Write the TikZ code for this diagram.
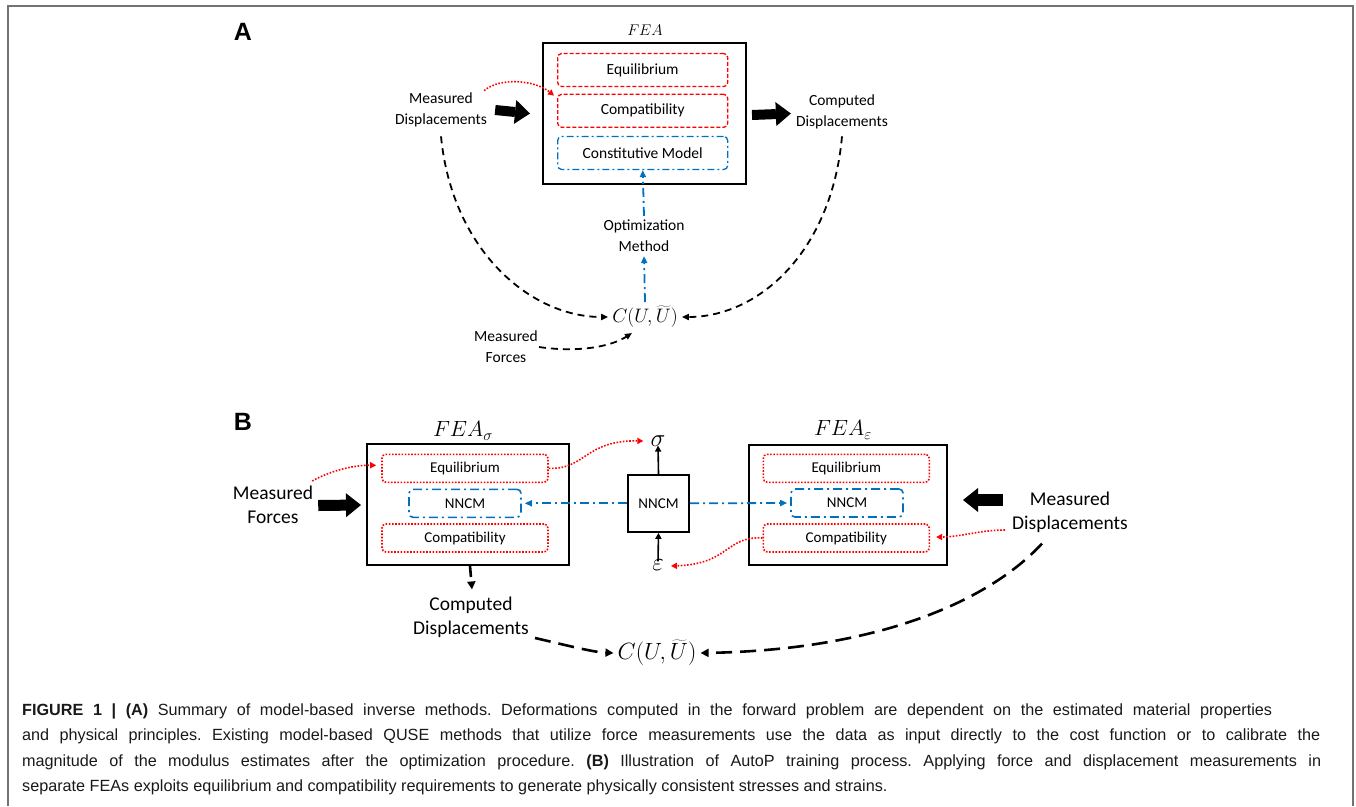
\RequirePackage{fix-cm}
\documentclass[tikz,border=0pt]{standalone}
\usepackage{fontspec}
\setmainfont{Carlito}
\newfontfamily\capfont{Liberation Sans}
\usetikzlibrary{arrows.meta}
\definecolor{cred}{RGB}{255,0,0}
\definecolor{cblue}{RGB}{0,112,192}
\frenchspacing
\begin{document}
\begin{tikzpicture}[x=1pt,y=-1pt,
  lblA/.style={font=\fontsize{15.5}{21}\selectfont, align=center, inner sep=1pt},
  lblB/.style={font=\fontsize{19.5}{24}\selectfont, align=center, inner sep=1pt},
  mathA/.style={font=\fontsize{19.5}{22}\selectfont, inner sep=4pt},
  mathB/.style={font=\fontsize{23.5}{26}\selectfont, inner sep=4pt},
  outerbox/.style={draw, line width=2pt, inner sep=0pt},
  innerA/.style={font=\fontsize{15.5}{18}\selectfont, inner sep=0pt, rounded corners=4pt, line width=1.3pt, minimum width=170pt, minimum height=33pt},
  redAbox/.style={innerA, draw=cred, dash pattern=on 4pt off 2pt},
  blueAbox/.style={innerA, draw=cblue, dash pattern=on 7pt off 3pt on 2pt off 3pt},
  innerB/.style={font=\fontsize{15}{18}\selectfont, inner sep=0pt, rounded corners=4pt, line width=1.6pt, minimum height=28pt},
  redBbox/.style={innerB, draw=cred, dash pattern=on 1.6pt off 1.6pt, minimum width=166pt},
  blueBbox/.style={innerB, draw=cblue, dash pattern=on 9pt off 4pt on 2pt off 4pt, minimum width=112pt},
  reddot/.style={draw=cred, line width=1.6pt, dash pattern=on 1.6pt off 1.6pt, -{Triangle[length=6pt,width=6pt]}},
  dashA/.style={line width=1.8pt, dash pattern=on 7pt off 5pt, -{Triangle[length=7pt,width=6pt]}},
  dashB/.style={line width=2.6pt, dash pattern=on 16pt off 8pt, -{Triangle[length=8pt,width=8pt]}},
  bluedd/.style={draw=cblue, line width=1.8pt, dash pattern=on 9pt off 4pt on 2pt off 4pt, -{Triangle[length=7pt,width=6pt]}},
  fatarrow/.style={line width=#1, -{Triangle[length=15pt,width=24pt,line width=0pt]}},
  solidarr/.style={line width=1.6pt, -{Triangle[length=6pt,width=6pt]}},
  greek/.style={font=\fontsize{25}{26}\selectfont, inner sep=1pt},
  caption/.style={font=\capfont\fontsize{16.2}{20}\selectfont, anchor=base west, inner sep=0pt, text=black!90}
]
\useasboundingbox (0,0) rectangle (1356,806);
\draw[black!55, line width=1.5pt] (8,806) -- (8,6) -- (1353,6) -- (1353,806);

% ---------------- Part A ----------------
\node[font=\capfont\bfseries\fontsize{25}{25}\selectfont, inner sep=0pt] (labA) at (243,32) {A};
\node[font=\fontsize{15.5}{16}\selectfont, inner sep=0pt] (feaAlbl) at (645,30) {$FEA$};
\node[outerbox, minimum width=203pt, minimum height=141pt] (feaA) at (644.5,113.5) {};
\node[redAbox] (eqA) at (642.7,70) {Equilibrium};
\node[redAbox] (compA) at (642.7,110.8) {Compatibility};
\node[blueAbox] (consA) at (642.7,153) {Constitutive Model};

\node[lblA] (measDispA) at (441,110) {Measured\\Displacements};
\node[lblA] (compDispA) at (842,112) {Computed\\Displacements};
\node[lblA, inner sep=4pt] (optA) at (644,236) {Optimization\\Method};
\node[mathA] (costA) at (645,317) {$C(U,\widetilde{U})$};
\node[lblA] (measForceA) at (506,347) {Measured\\Forces};

\draw[fatarrow=10pt] ([xshift=7pt]measDispA.east) -- ([xshift=-12pt]feaA.west);
\draw[fatarrow=10pt] ([xshift=5pt,yshift=-1.5pt]feaA.east) -- ([xshift=-4pt,yshift=-1.5pt]compDispA.west);
\draw[reddot] ([shift={(-4pt,1pt)}]measDispA.north east) .. controls (500,77) and (535,80) .. ([shift={(-3pt,-2pt)}]compA.north west);
\draw[dashA] ([yshift=-8pt]measDispA.south) .. controls (452,250) and (530,317) .. (costA.west);
\draw[dashA] ([yshift=-6pt]compDispA.south) .. controls (832,250) and (760,317) .. (costA.east);
\draw[dashA] (measForceA.east) .. controls (580,353) and (612,346) .. ([shift={(-13pt,-16pt)}]costA.center);
\draw[bluedd] (costA.north) -- (optA.south);
\draw[bluedd] (optA.north) -- (consA.south);

% ---------------- Part B ----------------
\node[font=\capfont\bfseries\fontsize{25}{25}\selectfont, inner sep=0pt] (labB) at (243,422) {B};
\node[font=\fontsize{22}{24}\selectfont, inner sep=0pt] (feaSlbl) at (463,431) {$FEA_{\sigma}$};
\node[font=\fontsize{22}{24}\selectfont, inner sep=0pt] (feaElbl) at (843,430) {$FEA_{\varepsilon}$};

\node[outerbox, minimum width=202pt, minimum height=121pt] (boxL) at (468,504.5) {};
\node[redBbox] (eqL) at (465,468.3) {Equilibrium};
\node[blueBbox] (nnL) at (465,503.3) {NNCM};
\node[redBbox] (cpL) at (465,538) {Compatibility};

\node[outerbox, minimum width=198pt, minimum height=120pt] (boxR) at (848,505) {};
\node[redBbox] (eqR) at (846.3,468.3) {Equilibrium};
\node[blueBbox] (nnR) at (847,503) {NNCM};
\node[redBbox] (cpR) at (846.3,538) {Compatibility};

\node[outerbox, minimum width=61pt, minimum height=57pt, font=\fontsize{15}{18}\selectfont] (nnC) at (658.5,503.3) {NNCM};
\node[greek] (sigma) at (658,441) {$\sigma$};
\node[greek] (eps) at (658,565) {$\varepsilon$};

\node[lblB] (measForceB) at (273,505) {Measured\\Forces};
\node[lblB] (compDispB) at (471,617) {Computed\\Displacements};
\node[lblB] (measDispB) at (1070,512) {Measured\\Displacements};
\node[mathB] (costB) at (657,653) {$C(U,\widetilde{U})$};

\draw[fatarrow=11pt] ([xshift=4pt,yshift=-0.5pt]measForceB.east) -- ([xshift=-5pt]boxL.west |- measForceB.east);
\draw[fatarrow=12pt] ([shift={(-8pt,12pt)}]measDispB.west) -- ([shift={(15pt,5pt)}]boxR.east);
\draw[reddot] ([shift={(-2pt,4pt)}]measForceB.north east) .. controls (332,470) and (355,465) .. ([shift={(-5pt,3pt)}]eqL.west);
\draw[reddot] (eqL.east) .. controls (585,470) and (585,440) .. ([xshift=-6pt]sigma.west);
\draw[reddot] (cpR.west) .. controls (725,536) and (730,564) .. ([shift={(6pt,-1pt)}]eps.east);
\draw[reddot] ([shift={(-6pt,-18pt)}]measDispB.west) .. controls (980,530) and (960,537) .. ([shift={(6pt,1pt)}]cpR.east);
\draw[solidarr] (nnC.north) -- ([yshift=2pt]sigma.south);
\draw[solidarr] ([yshift=-3pt]eps.north) -- (nnC.south);
\draw[bluedd, shorten >=3pt] (nnC.west) -- (nnL.east);
\draw[bluedd, shorten >=3pt] (nnC.east) -- (nnR.west);
\draw[dashB, dash pattern=on 11pt off 9pt] ([xshift=2pt]boxL.south) -- ([xshift=1pt, yshift=6pt]compDispB.north);
\draw[dashB] ([shift={(5pt,-21pt)}]compDispB.east) .. controls (570,646) and (592,652) .. (costB.west);
\draw[dashB] ([shift={(-28pt,-10pt)}]measDispB.south) .. controls (990,600) and (880,650) .. (costB.east);

% ---------------- Caption ----------------
\node[caption] (cap1) at (22,715) {\makebox[1250pt][s]{\textbf{FIGURE 1 | (A)} Summary of model-based inverse methods. Deformations computed in the forward problem are dependent on the estimated material properties}};
\node[caption] (cap2) at (22,740.5) {\makebox[1298pt][s]{and physical principles. Existing model-based QUSE methods that utilize force measurements use the data as input directly to the cost function or to calibrate the}};
\node[caption] (cap3) at (22,766) {\makebox[1299pt][s]{magnitude of the modulus estimates after the optimization procedure. \textbf{(B)} Illustration of AutoP training process. Applying force and displacement measurements in}};
\node[caption] (cap4) at (22,791.5) {separate FEAs exploits equilibrium and compatibility requirements to generate physically consistent stresses and strains.};
\end{tikzpicture}
\end{document}
